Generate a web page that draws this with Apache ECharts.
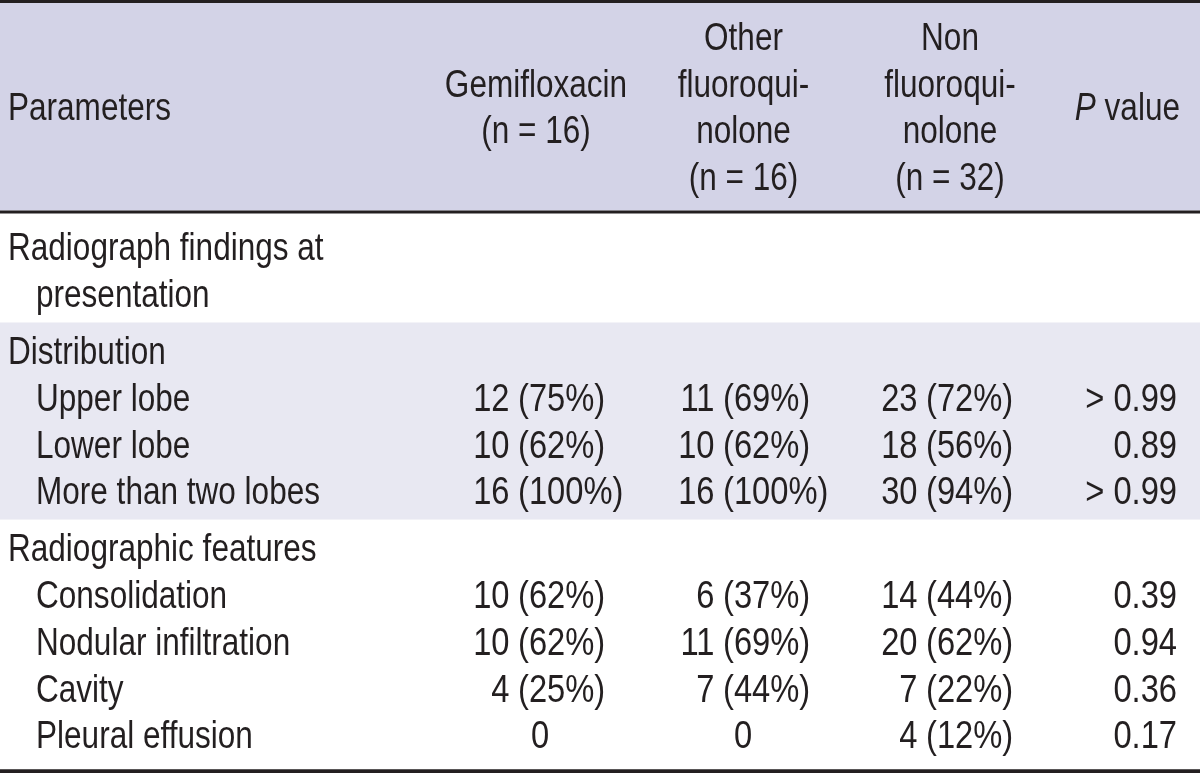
<!DOCTYPE html>
<html>
<head>
<meta charset="utf-8">
<script src="https://cdn.jsdelivr.net/npm/echarts@6/dist/echarts.min.js"></script>
<style>
html, body { margin: 0; padding: 0; background: #fff; }
#table_chart { width: 1200px; height: 773px; }
</style>
</head>
<body>
<div id="table_chart"></div>
<script>
// column headings
var headers = ['Parameters', 'Gemifloxacin\n(n = 16)', 'Other\nfluoroqui-\nnolone\n(n = 16)', 'Non\nfluoroqui-\nnolone\n(n = 32)', '{i|P} value'];
// rows per block; first row of a block is its heading
var groupSizes = [1, 4, 5];
var parameters = ['Radiograph findings at\npresentation', 'Distribution', 'Upper lobe', 'Lower lobe', 'More than two lobes',
    'Radiographic features', 'Consolidation', 'Nodular infiltration', 'Cavity', 'Pleural effusion'];
var gemifloxacin = ['', '', '12 (75%)', '10 (62%)', '16 (100%)', '', '10 (62%)', '10 (62%)', '4 (25%)', '0'];
var otherFluoroquinolone = ['', '', '11 (69%)', '10 (62%)', '16 (100%)', '', '6 (37%)', '11 (69%)', '7 (44%)', '0'];
var nonFluoroquinolone = ['', '', '23 (72%)', '18 (56%)', '30 (94%)', '', '14 (44%)', '20 (62%)', '7 (22%)', '4 (12%)'];
var pValues = ['', '', '> 0.99', '0.89', '> 0.99', '', '0.39', '0.94', '0.36', '0.17'];

// no condensed face installed, so squeeze a regular one
var FONT = "'Liberation Sans', Arial, sans-serif";
var SQUEEZE = 0.83, SQUEEZE_NUM = 0.86;
var INK = '#231f20';
var fills = ['#ffffff', '#e8e8f2', '#d3d3e7', INK];

// layout
var lineH = 46.8, groupPad = 5, bodyTop = 219;
var headerLineH = 46.7, headerMid = 107;
var textDy = 2.5;  // visual centre of the glyphs sits a bit high
// x of the "(" for count columns, and the column centre
var countCols = [
    { values: gemifloxacin, paren: 518, center: 540, head: 536 },
    { values: otherFluoroquinolone, paren: 723, center: 743, head: 743.5 },
    { values: nonFluoroquinolone, paren: 926, center: 950, head: 950 }
];

var rowY = [], rects = [];
var y = bodyTop, r = 0;
groupSizes.forEach(function (size, g) {
    var top = y;
    y += groupPad;
    for (var k = 0; k < size; k++, r++) {
        rowY.push(y + lineH / 2);
        y += parameters[r].split('\n').length * lineH;
    }
    y += groupPad;
    rects.push([g === 0 ? 213.5 : top, y, g % 2]);
});
var bodyEnd = y;
rects.push([0, 210.5, 2]);          // header band
rects.push([0, 3, 3]);              // top rule
rects.push([210.5, 213.5, 3]);      // header rule
rects.push([bodyEnd + 5.5, 773, 3]); // bottom rule

var groupStarts = [];
groupSizes.reduce(function (n, s) { groupStarts.push(n); return n + s; }, 0);

var cells = [];
function cell(x, yy, text, align, num) {
    cells.push({ value: [x, yy + textDy], text: text, align: align, num: !!num });
}
// header
cell(8, headerMid, headers[0], 'left');
countCols.forEach(function (c, i) {
    var lines = headers[i + 1].split('\n');
    lines.forEach(function (t, j) {
        cell(c.head, headerMid + (j - (lines.length - 1) / 2) * headerLineH, t, 'center');
    });
});
cell(1180, headerMid, headers[4], 'right');
// body
parameters.forEach(function (p, i) {
    var isHead = groupStarts.indexOf(i) >= 0;
    p.split('\n').forEach(function (t, j) {
        cell(isHead && j === 0 ? 8 : 36, rowY[i] + j * lineH, t, 'left');
    });
    countCols.forEach(function (c) {
        var v = c.values[i];
        if (!v) return;
        var k = v.indexOf(' (');
        if (k < 0) {
            cell(c.center, rowY[i], v, 'center', true);
        } else {
            cell(c.paren - 8.5, rowY[i], v.slice(0, k), 'right', true);
            cell(c.paren, rowY[i], v.slice(k + 1), 'left', true);
        }
    });
    if (pValues[i]) cell(1177, rowY[i], pValues[i], 'right', true);
});

var chart = echarts.init(document.getElementById('table_chart'));
chart.setOption({
    animation: false,
    grid: { left: 0, right: 0, top: 0, bottom: 0 },
    xAxis: { type: 'value', min: 0, max: 1200, show: false },
    yAxis: { type: 'value', min: 0, max: 773, inverse: true, show: false },
    series: [
        {
            type: 'custom',
            silent: true,
            data: rects,
            renderItem: function (params, api) {
                var p0 = api.coord([0, api.value(0)]);
                var p1 = api.coord([1200, api.value(1)]);
                return {
                    type: 'rect',
                    shape: { x: p0[0], y: p0[1], width: p1[0] - p0[0], height: p1[1] - p0[1] },
                    style: { fill: fills[api.value(2)] }
                };
            }
        },
        {
            type: 'custom',
            silent: true,
            data: cells.map(function (c) { return c.value; }),
            renderItem: function (params, api) {
                var c = cells[params.dataIndex];
                var p = api.coord([api.value(0), api.value(1)]);
                return {
                    type: 'text',
                    x: p[0],
                    y: p[1],
                    scaleX: c.num ? SQUEEZE_NUM : SQUEEZE,
                    style: {
                        text: c.text,
                        fill: INK,
                        font: '38px ' + FONT,
                        align: c.align,
                        verticalAlign: 'middle',
                        rich: {
                            i: { fontStyle: 'italic', fontSize: 38, fontFamily: FONT, fill: INK }
                        }
                    }
                };
            }
        }
    ]
});
</script>
</body>
</html>
